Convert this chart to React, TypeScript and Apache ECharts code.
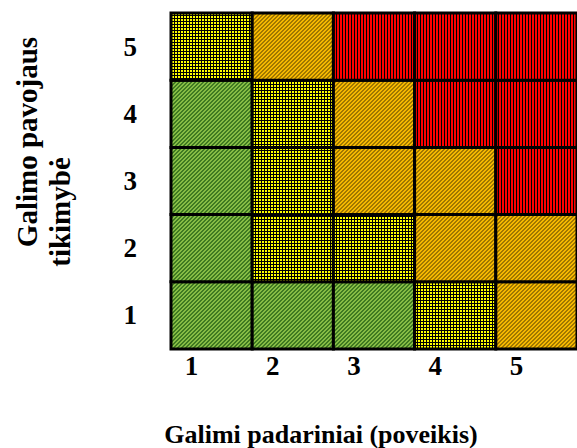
import React, { useEffect, useRef } from "react";
import * as echarts from "echarts";

// Impact (x) and likelihood (y) category labels
const impactLabels = ["1", "2", "3", "4", "5"];
const likelihoodLabels = ["1", "2", "3", "4", "5"];

// Risk level per cell, by likelihood row (1 = low/green, 2 = yellow, 3 = orange, 4 = red)
const likelihood1 = [1, 1, 1, 2, 3];
const likelihood2 = [1, 2, 2, 3, 3];
const likelihood3 = [1, 2, 3, 3, 4];
const likelihood4 = [1, 2, 3, 4, 4];
const likelihood5 = [2, 3, 4, 4, 4];

const xTitle = "Galimi padariniai (poveikis)";
const yTitleLine1 = "Galimo pavojaus";
const yTitleLine2 = "tikimybė";

const FONT = '"Liberation Serif", "Times New Roman", serif';

function makeTile(w: number, h: number, fn: (x: number, y: number) => string) {
  const c = document.createElement("canvas");
  c.width = w;
  c.height = h;
  const ctx = c.getContext("2d")!;
  for (let y = 0; y < h; y++) {
    for (let x = 0; x < w; x++) {
      ctx.fillStyle = fn(x, y);
      ctx.fillRect(x, y, 1, 1);
    }
  }
  return { image: c, repeat: "repeat", imageWidth: w, imageHeight: h } as any;
}

export default function App() {
  const ref = useRef<HTMLDivElement>(null);
  useEffect(() => {
    if (!ref.current) return;
    const chart = echarts.init(ref.current, null, { renderer: "svg" });

    const patterns: Record<number, any> = {
      1: makeTile(4, 4, (x, y) => ((x + y) % 4 < 2 ? "#3f7a22" : "#86bc45")),
      2: makeTile(3, 3, (x, y) => (x === 0 || y === 0 ? "#000000" : "#ffff00")),
      3: makeTile(4, 4, (x, y) => ((x + y) % 4 < 2 ? "#a07800" : "#f5b800")),
      4: makeTile(3, 1, (x) => (x === 0 ? "#000000" : "#ff0000")),
    };

    const rows = [likelihood1, likelihood2, likelihood3, likelihood4, likelihood5];
    const data: number[][] = [];
    rows.forEach((row, yi) => {
      row.forEach((lvl, xi) => {
        data.push([xi, yi, lvl]);
      });
    });

    chart.setOption({
      animation: false,
      grid: { left: 171, top: 13, width: 410, height: 336 },
      xAxis: {
        type: "category",
        data: impactLabels,
        axisLine: { show: false },
        axisTick: { show: false },
        splitLine: { show: false },
        axisLabel: {
          color: "#000",
          fontFamily: FONT,
          fontWeight: "bold",
          fontSize: 27,
          margin: 3,
          padding: [0, 40, 0, 0],
        },
      },
      yAxis: {
        type: "category",
        data: likelihoodLabels,
        axisLine: { show: false },
        axisTick: { show: false },
        splitLine: { show: false },
        axisLabel: {
          color: "#000",
          fontFamily: FONT,
          fontWeight: "bold",
          fontSize: 27,
          margin: 34,
          padding: [8, 0, 0, 0],
        },
      },
      series: [
        {
          type: "custom",
          data,
          encode: { x: 0, y: 1 },
          renderItem: (params: any, api: any) => {
            const xi = api.value(0);
            const yi = api.value(1);
            const lvl = api.value(2);
            const c = api.coord([xi, yi]);
            const s = api.size([1, 1]);
            return {
              type: "rect",
              shape: { x: c[0] - s[0] / 2, y: c[1] - s[1] / 2, width: s[0], height: s[1] },
              style: { fill: patterns[lvl], stroke: "#000", lineWidth: 3 },
            };
          },
        },
      ],
      graphic: [
        {
          type: "text",
          x: 321,
          y: 434,
          style: {
            text: xTitle,
            fill: "#000",
            font: `bold 26px ${FONT}`,
            textAlign: "center",
            textVerticalAlign: "middle",
          },
        },
        {
          type: "text",
          x: 27,
          y: 142,
          rotation: Math.PI / 2,
          style: {
            text: yTitleLine1,
            fill: "#000",
            font: `bold 29px ${FONT}`,
            textAlign: "center",
            textVerticalAlign: "middle",
          },
        },
        {
          type: "text",
          x: 60,
          y: 212,
          rotation: Math.PI / 2,
          style: {
            text: yTitleLine2,
            fill: "#000",
            font: `bold 29px ${FONT}`,
            textAlign: "center",
            textVerticalAlign: "middle",
          },
        },
      ],
    });

    return () => chart.dispose();
  }, []);

  return (
    <div
      ref={ref}
      style={{ position: "absolute", left: 0, top: 0, width: 577, height: 448 }}
    />
  );
}
